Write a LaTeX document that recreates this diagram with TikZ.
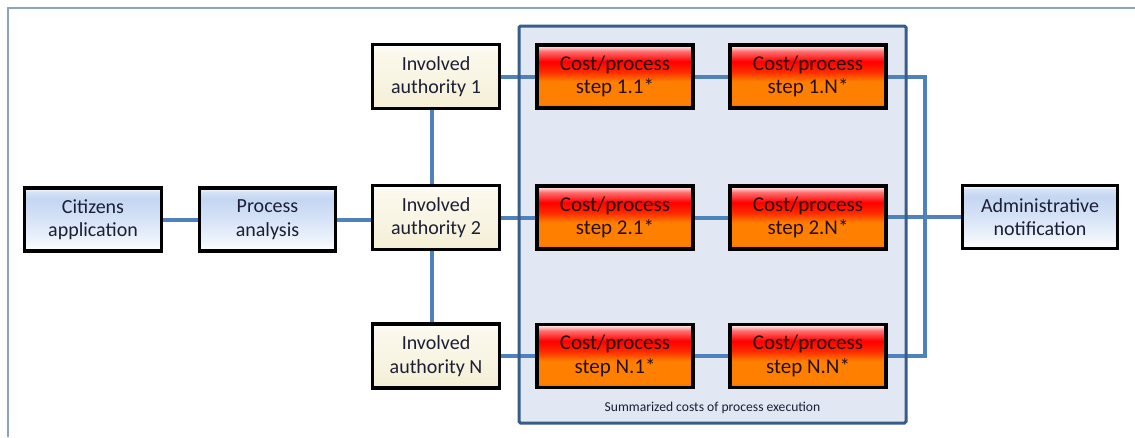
\documentclass[tikz,border=0pt]{standalone}
\usepackage{fontspec}
\setmainfont{Carlito}
\usetikzlibrary{shadows}

% colours
\definecolor{linkblue}{RGB}{79,129,189}
\definecolor{framedark}{RGB}{56,93,138}
\definecolor{framefill}{RGB}{225,232,243}
\definecolor{outerline}{RGB}{140,162,192}
\definecolor{txt}{RGB}{28,30,52}
\definecolor{costtxt}{RGB}{40,14,14}

% drawing layers: area fill, connectors, then boxes
\pgfdeclarelayer{areafill}
\pgfdeclarelayer{links}
\pgfsetlayers{areafill,links,main}

% vertical shadings (bottom of box at 25bp, top at 75bp)
\pgfdeclareverticalshading{blueboxshade}{100bp}{%
  color(0bp)=(white); color(25bp)=(white);
  color(34bp)=(rgb,255:red,238;green,243;blue,251);
  color(50bp)=(rgb,255:red,214;green,227;blue,247);
  color(66bp)=(rgb,255:red,196;green,214;blue,242);
  color(72bp)=(rgb,255:red,214;green,226;blue,246);
  color(75bp)=(white); color(100bp)=(white)}
\pgfdeclareverticalshading{creamboxshade}{100bp}{%
  color(0bp)=(rgb,255:red,244;green,238;blue,212);
  color(25bp)=(rgb,255:red,244;green,238;blue,212);
  color(50bp)=(rgb,255:red,249;green,245;blue,228);
  color(70bp)=(rgb,255:red,251;green,248;blue,236);
  color(75bp)=(white); color(100bp)=(white)}
\pgfdeclareverticalshading{costboxshade}{100bp}{%
  color(0bp)=(rgb,255:red,235;green,112;blue,0);
  color(25bp)=(rgb,255:red,235;green,112;blue,0);
  color(29bp)=(rgb,255:red,255;green,128;blue,0);
  color(46bp)=(rgb,255:red,255;green,128;blue,0);
  color(54bp)=(rgb,255:red,255;green,40;blue,0);
  color(62bp)=(rgb,255:red,255;green,0;blue,0);
  color(70bp)=(rgb,255:red,255;green,110;blue,110);
  color(75bp)=(white); color(100bp)=(white)}

\tikzset{
  box/.style={draw=black, line width=3.2pt, inner sep=0pt, align=center,
    text=txt, font=\fontsize{20}{23.5}\selectfont,
    drop shadow={shadow xshift=1.6pt, shadow yshift=-1.6pt, opacity=0.35}},
  bluebox/.style={box, shading=blueboxshade, minimum height=63pt},
  authbox/.style={box, shading=creamboxshade, minimum width=127pt, minimum height=64pt},
  costbox/.style={box, shading=costboxshade, minimum width=156pt, minimum height=63pt,
    text=costtxt, font=\fontsize{21}{23.5}\selectfont},
  link/.style={draw=linkblue, line width=4pt},
}

\begin{document}
\begin{tikzpicture}[x=1pt,y=-1pt]
\useasboundingbox (0,0) rectangle (1135,437);
\begin{pgfonlayer}{areafill}
  \fill[white] (0,0) rectangle (1135,437);
  \fill[framefill] (519,26) rectangle (906,423);
\end{pgfonlayer}

% outer frame edges
\draw[outerline, line width=1.5pt] (8,437) -- (8,8) -- (1135,8);

% frame around the summarized cost area
\draw[framedark, line width=3pt, rounded corners=1.5pt]
  (519,26) rectangle (906,423);
\node[font=\fontsize{13.6}{15}\selectfont, text=txt] (sumlabel) at (712.5,408)
  {Summarized costs of process execution};

% main chain
\node[bluebox, minimum width=137pt] (citizens) at (93,219.5) {Citizens\\application};
\node[bluebox, minimum width=136pt] (analysis) at (267.5,219.5) {Process\\analysis};

% authorities
\node[authbox] (auth1) at (436,76.5) {Involved\\authority 1};
\node[authbox] (auth2) at (436,217.5) {Involved\\authority 2};
\node[authbox] (authN) at (436,356) {Involved\\authority N};

% process steps
\node[costbox] (c11) at (615,76.5) {Cost/process\\step 1.1*};
\node[costbox] (c1N) at (808,76.5) {Cost/process\\step 1.N*};
\node[costbox] (c21) at (615,217.5) {Cost/process\\step 2.1*};
\node[costbox] (c2N) at (808,217.5) {Cost/process\\step 2.N*};
\node[costbox] (cN1) at (615,356)  {Cost/process\\step N.1*};
\node[costbox] (cNN) at (808,356)  {Cost/process\\step N.N*};

% result
\node[bluebox, minimum width=155pt] (notif) at (1040,217) {Administrative\\notification};

% bracket collecting the last steps
\coordinate (bt) at (925,76.5);
\coordinate (bb) at (925,356);

\begin{pgfonlayer}{links}
  \draw[link] (citizens.east) -- (analysis.west);
  \draw[link] (analysis.east) -- (analysis.east -| auth2.west);
  \draw[link] ([xshift=-4pt]auth1.south) -- ([xshift=-4pt]auth2.north);
  \draw[link] ([xshift=-4pt]auth2.south) -- ([xshift=-4pt]authN.north);
  \draw[link] (auth1.east) -- (c11.west);
  \draw[link] (auth2.east) -- (c21.west);
  \draw[link] (authN.east) -- (cN1.west);
  \draw[link] (c11.east) -- (c1N.west);
  \draw[link] (c21.east) -- (c2N.west);
  \draw[link] (cN1.east) -- (cNN.west);
  \draw[link] (c1N.east) -- (bt) -- (bb) -- (cNN.east);
  \draw[link] (notif.west -| c2N.east) -- (notif.west);
\end{pgfonlayer}
\end{tikzpicture}
\end{document}
